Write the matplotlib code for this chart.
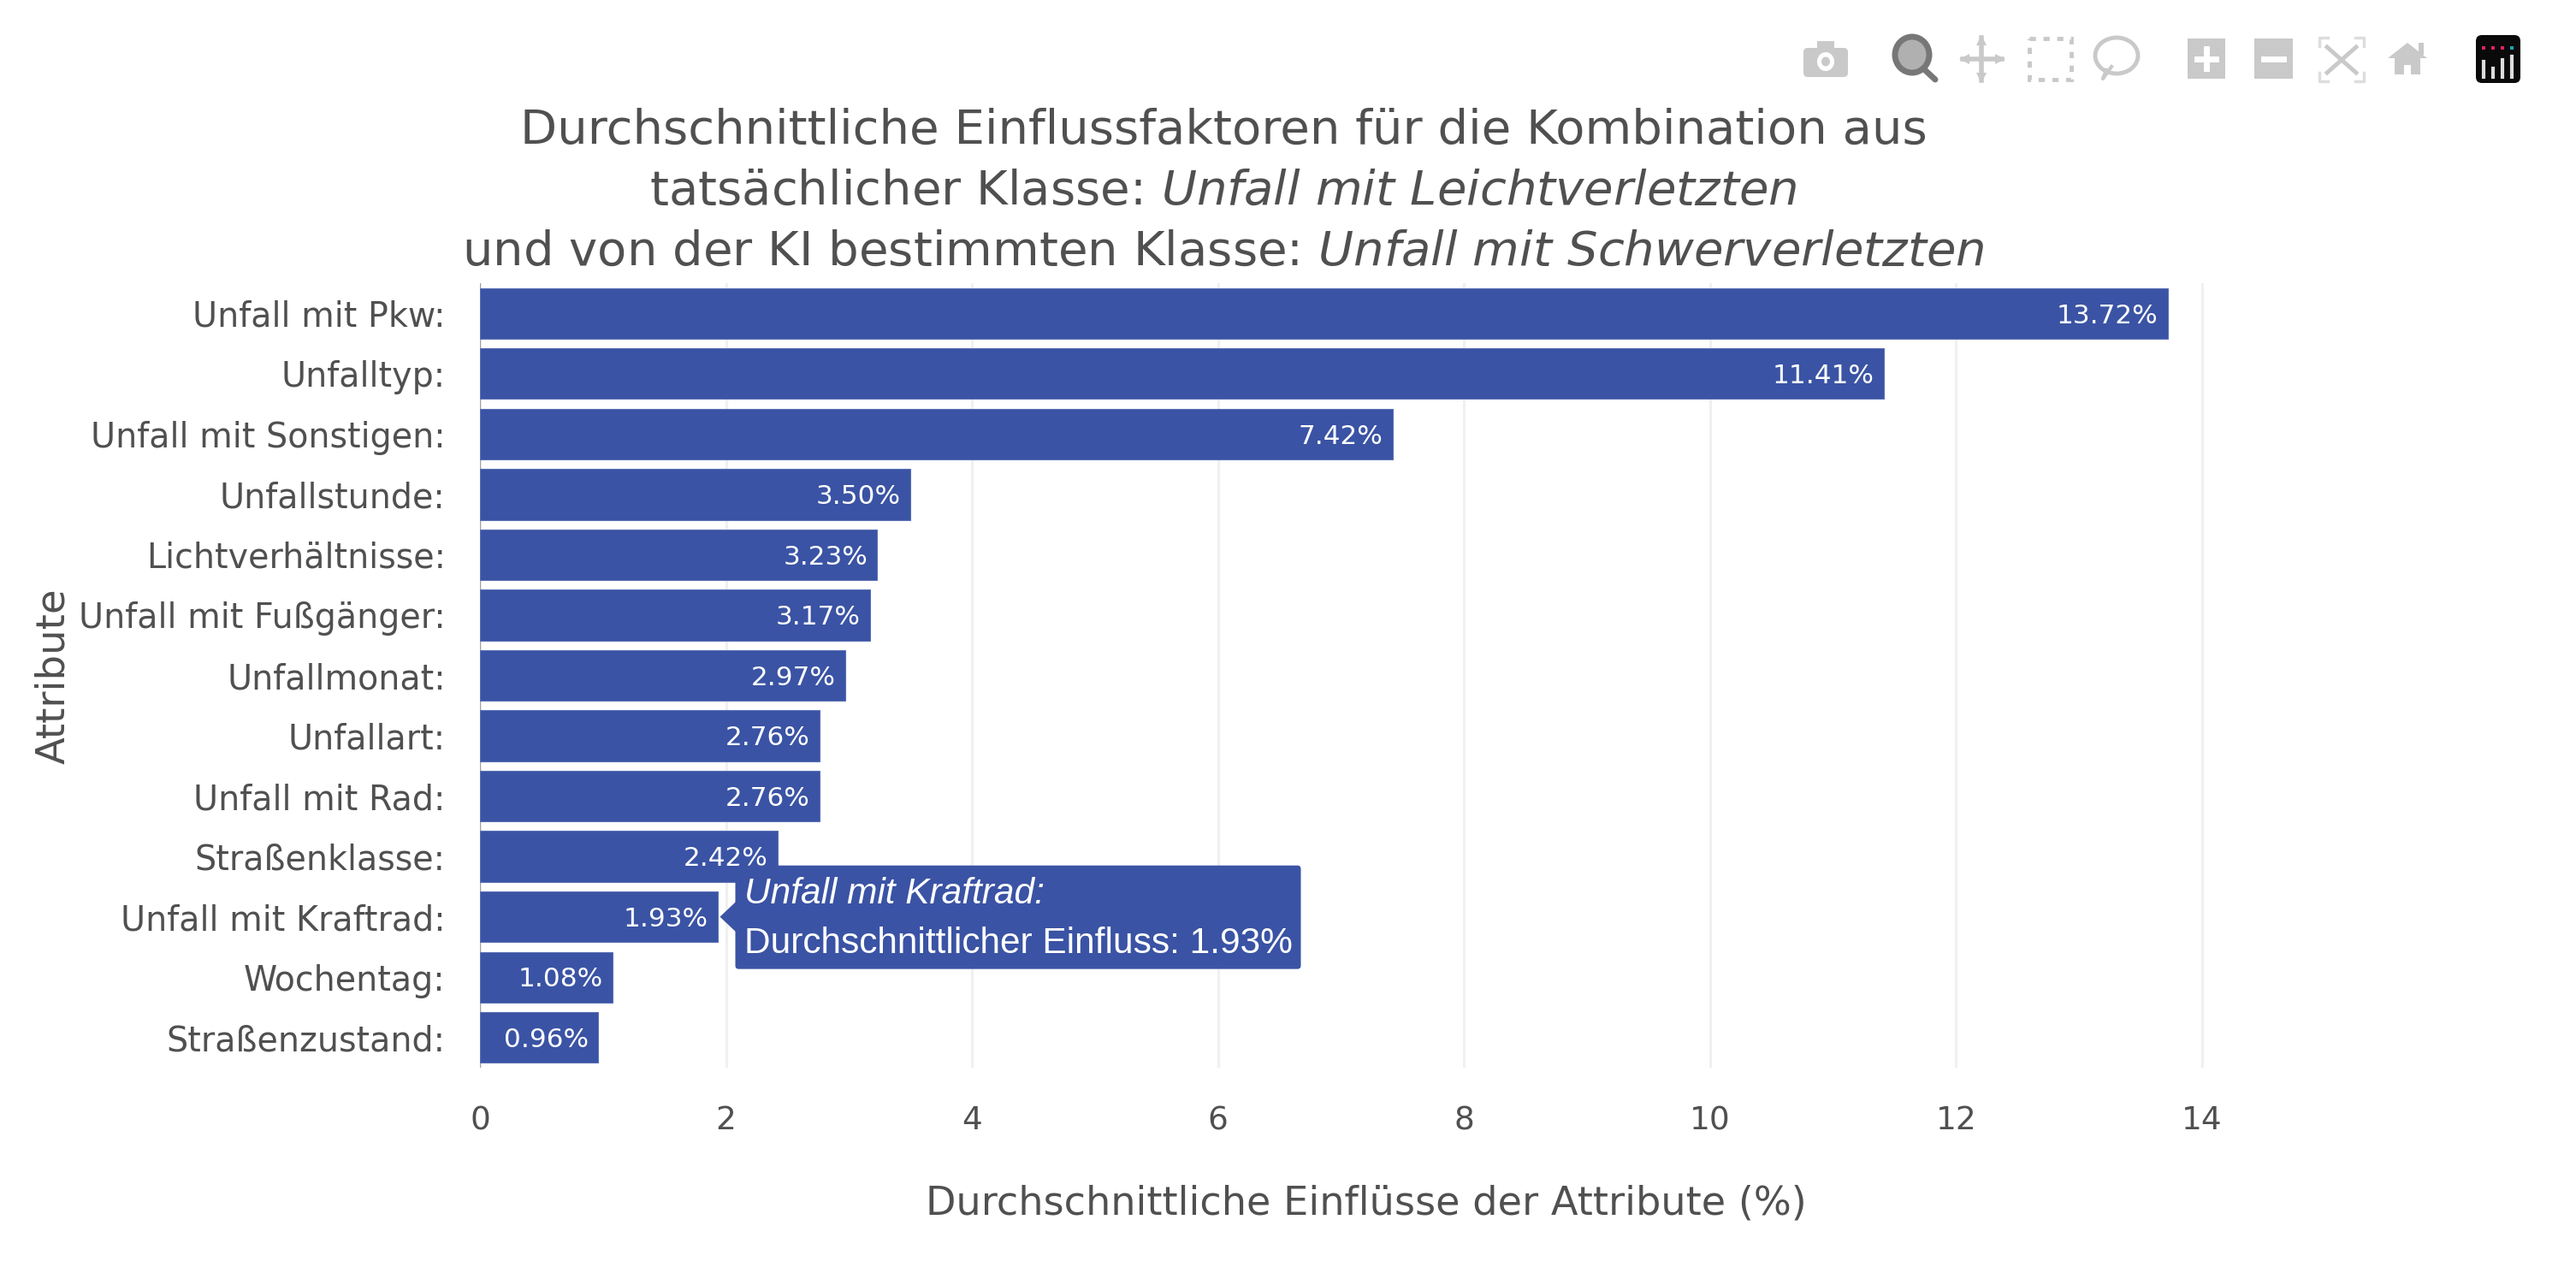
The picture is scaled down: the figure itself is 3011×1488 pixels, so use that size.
import matplotlib
matplotlib.use("Agg")
import matplotlib.pyplot as plt
from matplotlib.patches import Polygon, Rectangle, FancyBboxPatch, Ellipse

plt.rcParams['font.family'] = ['DejaVu Sans']
plt.rcParams['mathtext.fontset'] = 'dejavusans'

categories = ["Unfall mit Pkw:", "Unfalltyp:", "Unfall mit Sonstigen:", "Unfallstunde:",
              "Lichtverhältnisse:", "Unfall mit Fußgänger:", "Unfallmonat:", "Unfallart:",
              "Unfall mit Rad:", "Straßenklasse:", "Unfall mit Kraftrad:", "Wochentag:",
              "Straßenzustand:"]
values = [13.72, 11.41, 7.42, 3.50, 3.23, 3.17, 2.97, 2.76, 2.76, 2.42, 1.93, 1.08, 0.96]
x_ticks = [0, 2, 4, 6, 8, 10, 12, 14]
hover_index = 10

W, H = 3011, 1488
BLUE = "#3a53a4"
TXT = "#505050"
ICON = "#c9c9c9"

fig = plt.figure(figsize=(W / 100, H / 100), dpi=100, facecolor="white")
ax = fig.add_axes([561 / W, 1 - 1248 / H, (2633 - 561) / W, (1248 - 331) / H])

y = list(range(len(values)))
ax.set_axisbelow(True)
ax.xaxis.grid(True, color="#f0f0f0", lw=2.2)
ax.barh(y, values, height=0.84, color=BLUE, edgecolor="#5a6fb5", linewidth=0.8, zorder=2)
ax.axvline(0, color="#a0a0a0", lw=1.6, zorder=1)
ax.set_xlim(0, 14.41)
ax.set_ylim(12.5, -0.5)
for s in ax.spines.values():
    s.set_visible(False)

ax.set_yticks(y)
ax.set_yticklabels(categories, fontsize=28.5, color=TXT)
ax.set_xticks(x_ticks)
ax.set_xticklabels([str(t) for t in x_ticks], fontsize=27, color=TXT)
ax.tick_params(axis="y", length=0, pad=29)
ax.tick_params(axis="x", length=0, pad=32)

for i, v in enumerate(values):
    ax.annotate(f"{v:.2f}%", (v, i), xytext=(-8, -2), textcoords="offset points",
                ha="right", va="center", color="white", fontsize=22.4, zorder=3)

# overlay in pixel coordinates for page furniture
ov = fig.add_axes([0, 0, 1, 1], facecolor="none")
ov.set_xlim(0, W)
ov.set_ylim(H, 0)
ov.axis("off")

ov.text(1430, 224, "Durchschnittliche Einflussfaktoren für die Kombination aus\n"
        r"tatsächlicher Klasse: $\mathit{Unfall\ mit\ Leichtverletzten}$" + "\n"
        r"und von der KI bestimmten Klasse: $\mathit{Unfall\ mit\ Schwerverletzten}$",
        ha="center", va="center", multialignment="center", fontsize=40.4, color=TXT, linespacing=1.4)
ov.text(1597, 1407, "Durchschnittliche Einflüsse der Attribute (%)", ha="center", va="center",
        fontsize=33.3, color=TXT)
ov.text(63, 790, "Attribute", ha="center", va="center", rotation=90, fontsize=33.5, color=TXT)

# hover tooltip anchored on the highlighted bar
ax_px = ax.transData.transform((values[hover_index], hover_index))
ax0, ay0 = ov.transData.inverted().transform(ax_px)
tip_x = ax0 + 3
ov.add_patch(FancyBboxPatch((tip_x + 18, ay0 - 60), 661, 121, boxstyle="round,pad=0,rounding_size=4",
                            fc=BLUE, ec="none", zorder=5))
ov.add_patch(Polygon([(tip_x, ay0), (tip_x + 19, ay0 - 18), (tip_x + 19, ay0 + 18)], closed=True,
                     fc=BLUE, ec="none", zorder=5))
ov.text(tip_x + 28, ay0 - 27, "Unfall mit Kraftrad:", family="Liberation Sans", style="italic",
        color="white", fontsize=30.5, va="center", ha="left", zorder=6)
ov.text(tip_x + 28, ay0 + 31, "Durchschnittlicher Einfluss: 1.93%", family="Liberation Sans",
        color="white", fontsize=30.5, va="center", ha="left", zorder=6)

# modebar
# camera
ov.add_patch(FancyBboxPatch((2108, 56), 52, 34, boxstyle="round,pad=0,rounding_size=5", fc=ICON, ec="none"))
ov.add_patch(Rectangle((2124, 48), 20, 10, fc=ICON, ec="none"))
ov.add_patch(Ellipse((2134, 72), 20, 22, fc="white", ec="none"))
ov.add_patch(Ellipse((2134, 72), 10, 11, fc=ICON, ec="none"))
# zoom (active)
ov.add_patch(Ellipse((2235, 64), 40, 42, fc="#b0b0b0", ec="#777777", lw=5))
ov.plot([2248, 2262], [80, 93], color="#777777", lw=5, solid_capstyle="round")
# pan
ov.plot([2294, 2340], [69, 69], color=ICON, lw=4)
ov.plot([2316, 2316], [44, 94], color=ICON, lw=4)
for m, px, py in [("<", 2296, 69), (">", 2338, 69), ("^", 2316, 47), ("v", 2316, 91)]:
    ov.plot([px], [py], marker=m, color=ICON, ms=9, mew=0)
# box select
ov.add_patch(Rectangle((2372, 45), 49, 48, fc="none", ec=ICON, lw=3.5, ls=(0, (1.5, 1.8))))
# lasso
ov.add_patch(Ellipse((2474, 65), 50, 42, fc="none", ec=ICON, lw=3.5))
ov.plot([2462, 2458, 2468], [82, 92, 78], color=ICON, lw=3)
# plus / minus
ov.add_patch(Rectangle((2557, 45), 44, 47, fc=ICON, ec="none"))
ov.plot([2568, 2590], [68.5, 68.5], color="white", lw=5)
ov.plot([2579, 2579], [57, 80], color="white", lw=5)
ov.add_patch(Rectangle((2635, 45), 45, 47, fc=ICON, ec="none"))
ov.plot([2646, 2669], [68.5, 68.5], color="white", lw=5)
# autoscale
ov.plot([2720, 2754], [55, 85], color=ICON, lw=3.5)
ov.plot([2720, 2754], [85, 55], color=ICON, lw=3.5)
for cx, cy, dx, dy in [(2711, 44, 1, 1), (2763, 44, -1, 1), (2711, 95, 1, -1), (2763, 95, -1, -1)]:
    ov.plot([cx + 10 * dx, cx, cx], [cy, cy, cy + 10 * dy], color="#dddddd", lw=2.5)
# home
ov.add_patch(Polygon([(2791, 68), (2814, 50), (2837, 68)], closed=True, fc=ICON, ec="none"))
ov.add_patch(Rectangle((2799, 66), 30, 21, fc=ICON, ec="none"))
ov.add_patch(Rectangle((2827, 50), 6, 14, fc=ICON, ec="none"))
ov.add_patch(Rectangle((2810, 76), 8, 11, fc="white", ec="none"))
# logo
ov.add_patch(FancyBboxPatch((2894, 41), 52, 56, boxstyle="round,pad=0,rounding_size=7", fc="#0a0a0a", ec="none"))
for cx, top in [(2903, 72), (2914, 80), (2925, 70), (2936, 66)]:
    ov.plot([cx, cx], [top, 90], color="#dddddd", lw=3)
    ov.plot([cx], [56], marker="s", ms=3.5, color="#e0245e" if cx < 2930 else "#19a7b8", mew=0)

fig.savefig("out.png", dpi=100, facecolor="white")
